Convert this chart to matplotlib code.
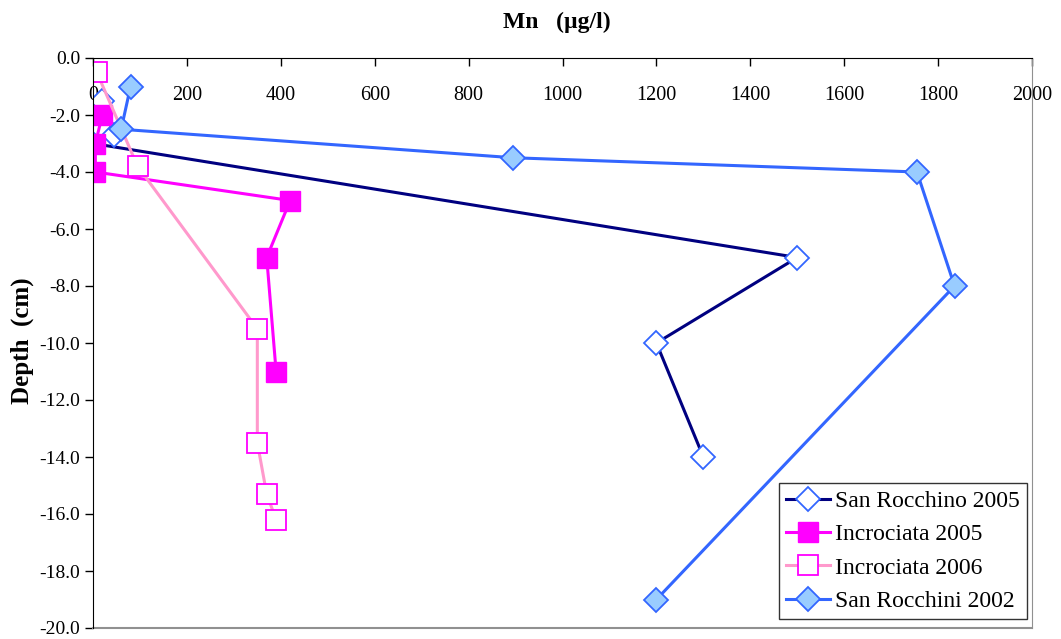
import matplotlib
matplotlib.use("Agg")
import matplotlib.pyplot as plt

plt.rcParams['font.family'] = ['Liberation Serif', 'DejaVu Serif']

# Data: Mn (ug/l) vs depth (cm)
sr2005_mn = [20, 45, 0, 1500, 1200, 1300]
sr2005_depth = [-1.5, -2.7, -3.0, -7.0, -10.0, -14.0]

inc2005_mn = [20, 5, 5, 420, 370, 390]
inc2005_depth = [-2.0, -3.0, -4.0, -5.0, -7.0, -11.0]

inc2006_mn = [8, 95, 350, 350, 370, 390]
inc2006_depth = [-0.5, -3.8, -9.5, -13.5, -15.3, -16.2]

sr2002_mn = [80, 60, 895, 1755, 1835, 1200]
sr2002_depth = [-1.0, -2.5, -3.5, -4.0, -8.0, -19.0]

labels = ["San Rocchino 2005", "Incrociata 2005", "Incrociata 2006", "San Rocchini 2002"]
xticks = [0, 200, 400, 600, 800, 1000, 1200, 1400, 1600, 1800, 2000]
yticks = [0, -2, -4, -6, -8, -10, -12, -14, -16, -18, -20]

fig = plt.figure(figsize=(10.61, 6.39), dpi=100)
ax = fig.add_axes([93/1061, 1 - 628/639, (1032-93)/1061, (628-58)/639])

lw = 2.2
ax.plot(sr2005_mn, sr2005_depth, color='#000080', lw=lw, marker='D', ms=12.5,
        mfc='white', mec='#3366FF', mew=1.3, label=labels[0])
ax.plot(inc2005_mn, inc2005_depth, color='#FF00FF', lw=lw, marker='s', ms=15,
        mfc='#FF00FF', mec='#FF00FF', mew=1.0, label=labels[1])
ax.plot(inc2006_mn, inc2006_depth, color='#FF99CC', lw=lw, marker='s', ms=15,
        mfc='white', mec='#FF00FF', mew=1.3, label=labels[2])
ax.plot(sr2002_mn, sr2002_depth, color='#3366FF', lw=lw, marker='D', ms=12.5,
        mfc='#99CCFF', mec='#3366FF', mew=1.3, label=labels[3])

ax.set_xlim(0, 2000)
ax.set_ylim(-20, 0)
ax.set_xticks(xticks)
ax.set_xticklabels([str(v) for v in xticks])
ax.set_yticks(yticks)
ax.set_yticklabels([f"{v:.1f}" for v in yticks])

# x axis drawn at depth 0 (top), ticks pointing down into plot
ax.spines['bottom'].set_position(('data', 0))
ax.spines['bottom'].set_color('black')
ax.spines['top'].set_visible(False)
ax.spines['right'].set_color('#909090')
ax.spines['left'].set_color('black')
ax.xaxis.set_ticks_position('bottom')
ax.tick_params(axis='x', direction='out', length=6, width=1, labelsize=14.5, pad=14)
ax.tick_params(axis='y', direction='out', length=6, width=1, labelsize=14, pad=3)
ax.plot([0, 1], [0, 0], transform=ax.transAxes, color='#909090', lw=1.5, clip_on=False)

fig.text(557/1061, 1 - 22/639, "Mn   (µg/l)", ha='center', va='center',
         fontsize=17, fontweight='bold')
fig.text(22/1061, 1 - 341/639, "Depth  (cm)", ha='center', va='center',
         rotation=90, fontsize=18, fontweight='bold')

leg = ax.legend(loc='lower right', bbox_to_anchor=(1.0 - 5/939, 9/570),
                fontsize=17, frameon=True, fancybox=False, edgecolor='black',
                handlelength=1.9, handletextpad=0.2, borderpad=0.3,
                labelspacing=0.5, borderaxespad=0)
leg.get_frame().set_linewidth(1.0)

fig.savefig("out.png", dpi=100)
